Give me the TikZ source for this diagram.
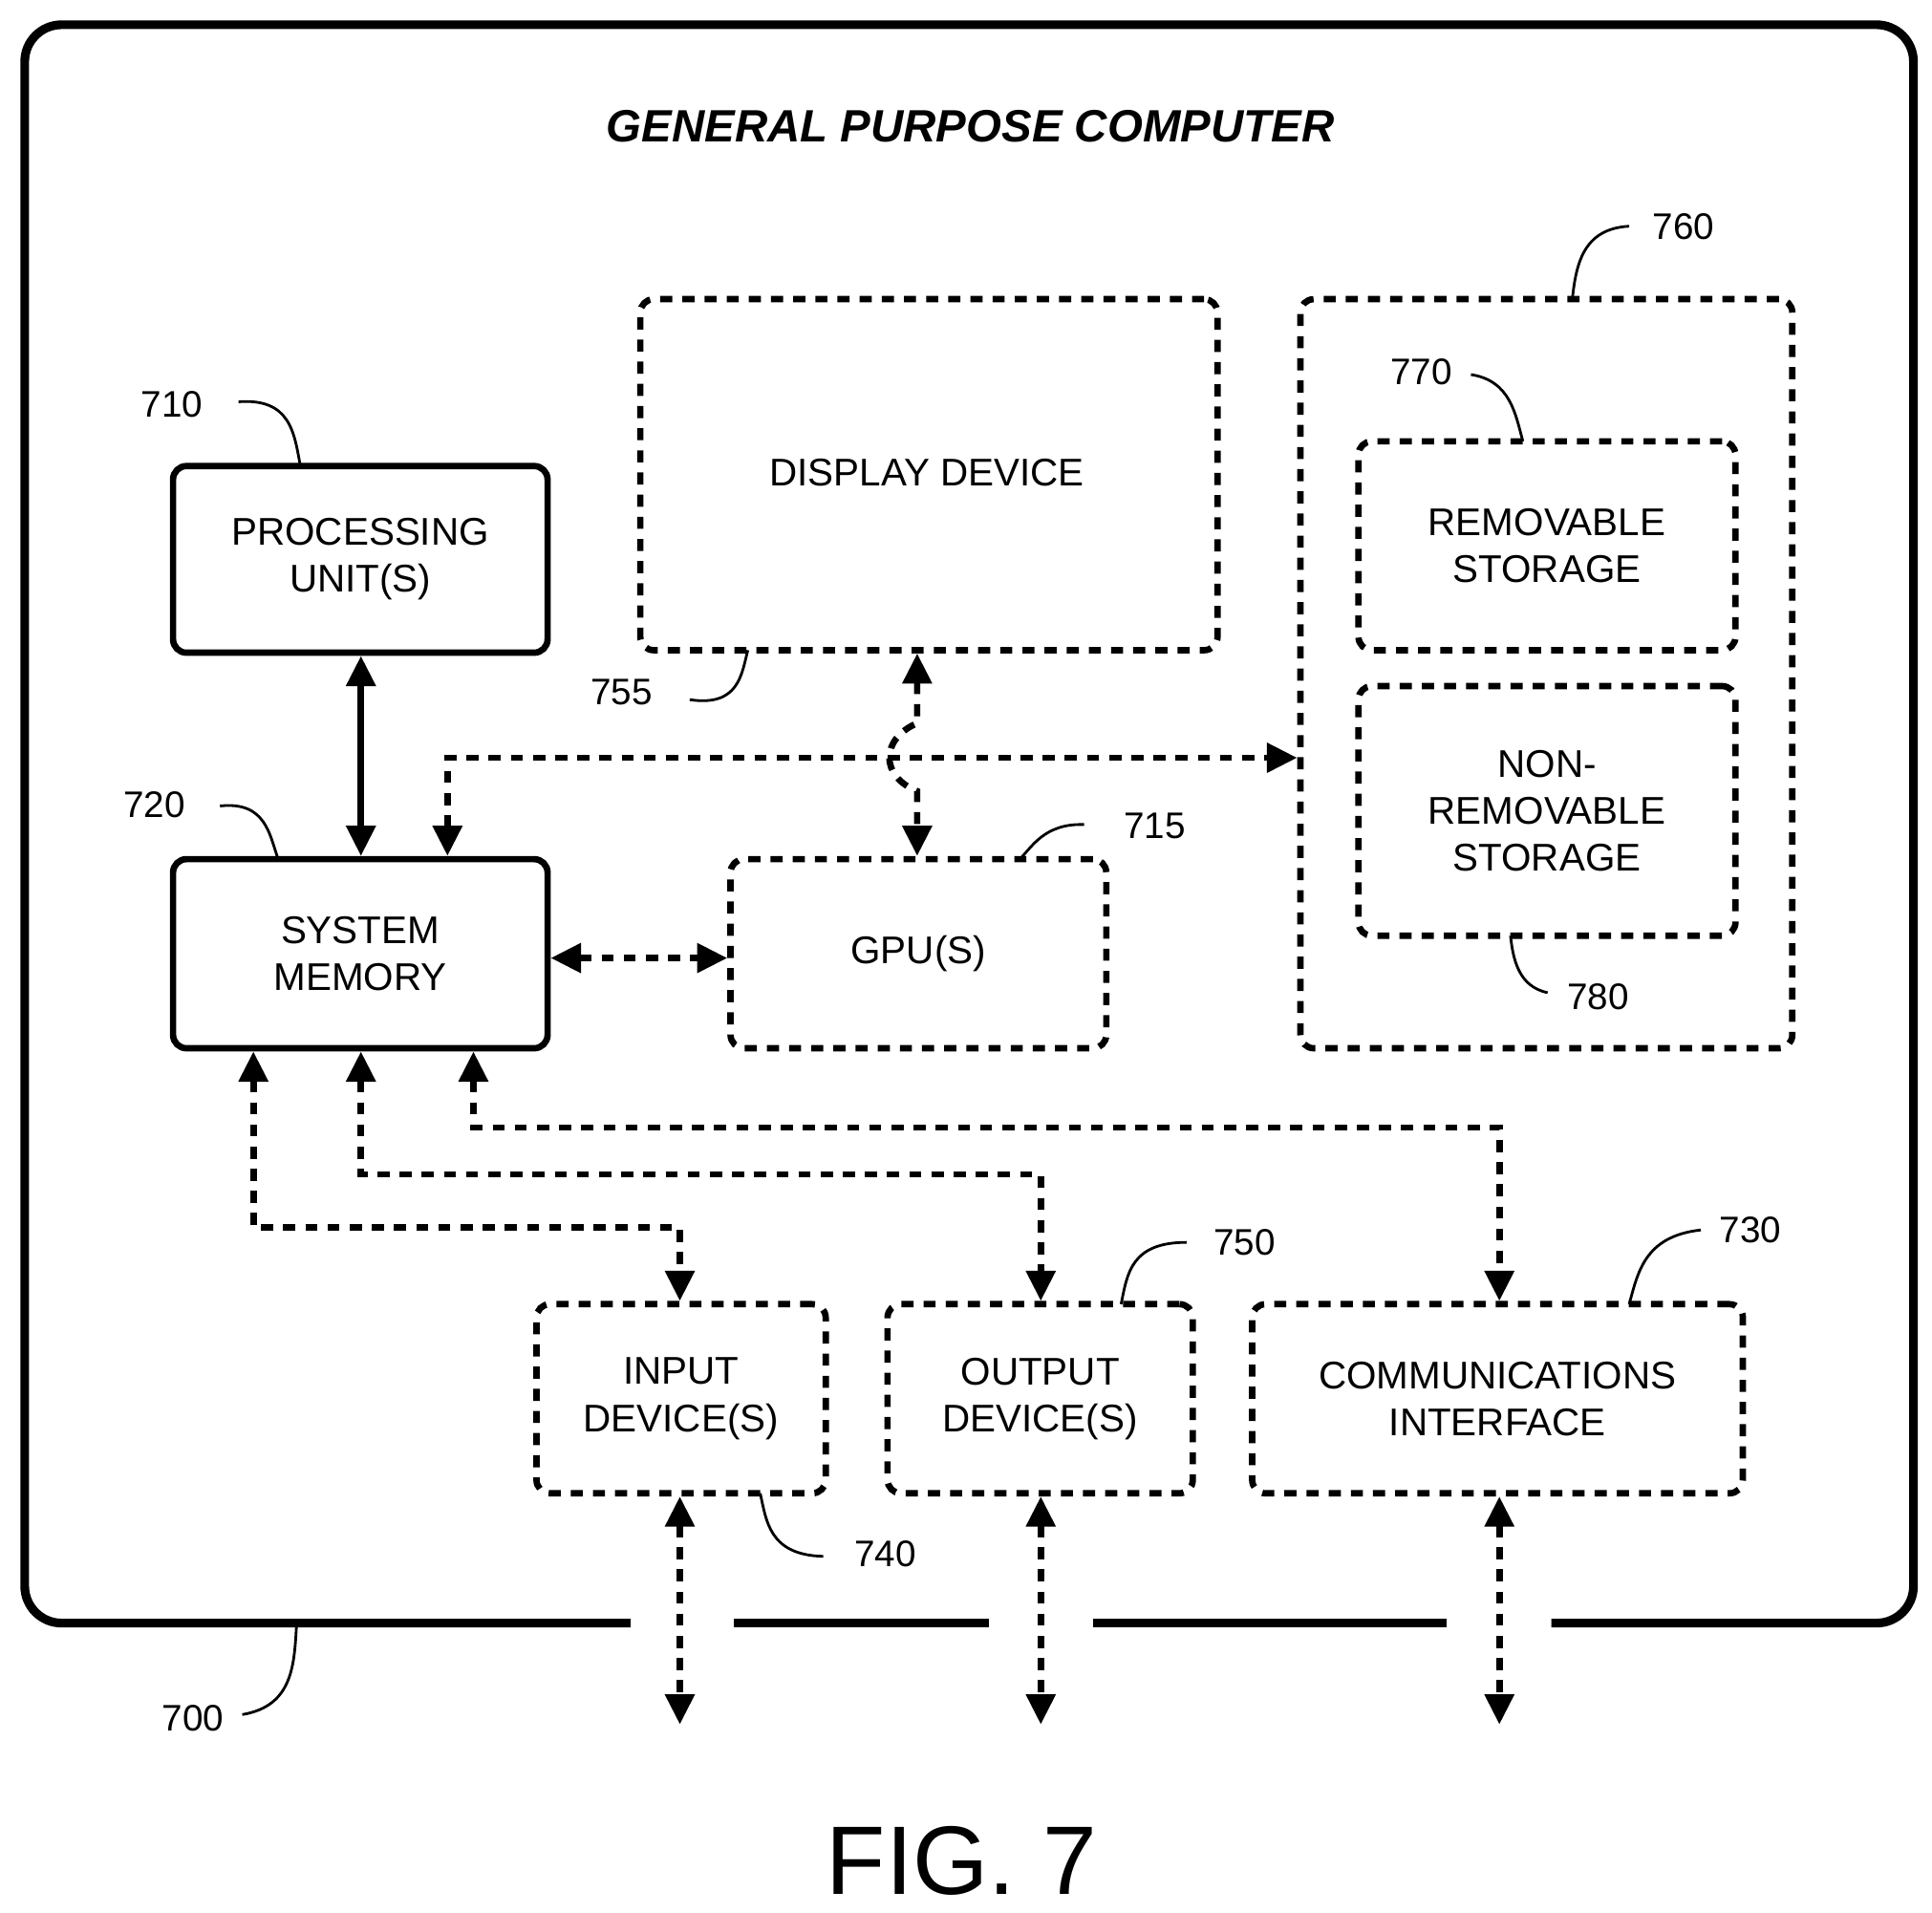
\documentclass[tikz,border=0pt]{standalone}
\usepackage{fontspec}
\setmainfont{Liberation Sans}
\usetikzlibrary{arrows.meta,fit}
\begin{document}
\begin{tikzpicture}[x=0.01294cm,y=-0.01294cm,
  >={Triangle[length=9pt,width=8.5pt]},
  solidbox/.style={draw,line width=1.9pt,rounded corners=4pt,inner sep=0},
  dbox/.style={draw,line width=1.9pt,rounded corners=4pt,inner sep=0,dash pattern=on 3.6pt off 3pt},
  txt/.style={font=\fontsize{11.5}{14}\selectfont,align=center},
  num/.style={font=\fontsize{11}{13}\selectfont},
  lead/.style={line width=0.8pt},
  con/.style={line width=1.9pt,dash pattern=on 3.6pt off 3pt,<->},
  scon/.style={line width=1.9pt,<->}]
\useasboundingbox (0,0) rectangle (1563,1547);
% outer frame
\draw[line width=2.6pt,rounded corners=11pt] (510,1313) -- (20,1313) -- (20,20) -- (1548,20) -- (1548,1313) -- (1255,1313);
\draw[line width=2.6pt] (594,1313)--(800,1313) (884,1313)--(1170,1313);
\node[font=\fontsize{13.5}{16}\selectfont\bfseries\itshape] (title) at (785,102) {GENERAL PURPOSE COMPUTER};
\node[font=\fontsize{29}{34}\selectfont] (fig) at (778,1505) {FIG. 7};
% boxes
\node[solidbox,fit={(140,377)(443,528)}] (pu) {};
\node[txt] at (pu) {PROCESSING\\UNIT(S)};
\node[solidbox,fit={(140,695)(443,848)}] (sm) {};
\node[txt] at (sm) {SYSTEM\\MEMORY};
\node[dbox,fit={(518,242)(985,526)}] (dd) {};
\node[txt] at (750,382) {DISPLAY DEVICE};
\node[dbox,fit={(591,695)(895,848)}] (gpu) {};
\node[txt] at (gpu) {GPU(S)};
\node[dbox,fit={(1052,242)(1450,848)}] (st) {};
\node[dbox,fit={(1099,357)(1404,526)}] (rs) {};
\node[txt] at (rs) {REMOVABLE\\STORAGE};
\node[dbox,fit={(1099,555)(1404,757)}] (nrs) {};
\node[txt] at (nrs) {NON-\\REMOVABLE\\STORAGE};
\node[dbox,fit={(434,1055)(668,1208)}] (in) {};
\node[txt] at (in) {INPUT\\DEVICE(S)};
\node[dbox,fit={(718,1055)(965,1208)}] (out) {};
\node[txt] at (out) {OUTPUT\\DEVICE(S)};
\node[dbox,fit={(1013,1055)(1410,1208)}] (ci) {};
\node[txt] at (ci) {COMMUNICATIONS\\INTERFACE};
% coordinates
\coordinate (x205) at (205,0); \coordinate (x292) at (292,0);
\coordinate (x362) at (362,0); \coordinate (x383) at (383,0);
\coordinate (x550) at (550,0); \coordinate (x742) at (742,0);
\coordinate (x842) at (842,0); \coordinate (x1213) at (1213,0);
\coordinate (y613) at (0,613); \coordinate (y775) at (0,775);
\coordinate (e1) at (550,1395); \coordinate (e2) at (842,1395); \coordinate (e3) at (1213,1395);
% connectors
\draw[scon] (pu.south -| x292) -- (sm.north -| x292);
\draw[con] (sm.north -| x362) -- (x362 |- y613) -- (st.west |- y613);
\draw[con] (dd.south -| x742) -- (742,585) .. controls (712,598) and (712,628) .. (742,640) -- (gpu.north -| x742);
\draw[con] (sm.east |- y775) -- (gpu.west |- y775);
\draw[con] (sm.south -| x205) -- (205,993) -- (550,993) -- (in.north -| x550);
\draw[con] (sm.south -| x292) -- (292,950) -- (842,950) -- (out.north -| x842);
\draw[con] (sm.south -| x383) -- (383,912) -- (1213,912) -- (ci.north -| x1213);
\draw[con] (in.south -| x550) -- (e1);
\draw[con] (out.south -| x842) -- (e2);
\draw[con] (ci.south -| x1213) -- (e3);
% reference numerals
\node[num] (n710) at (139,327) {710};
\draw[lead] (193,325) .. controls (235,322) and (238,350) .. (243,377);
\node[num] (n720) at (125,651) {720};
\draw[lead] (178,652) .. controls (215,648) and (218,675) .. (225,695);
\node[num] (n755) at (503,560) {755};
\draw[lead] (558,566) .. controls (598,572) and (600,545) .. (605,526);
\node[num] (n715) at (934,668) {715};
\draw[lead] (877,667) .. controls (845,666) and (835,685) .. (825,695);
\node[num] (n760) at (1362,183) {760};
\draw[lead] (1318,183) .. controls (1280,185) and (1275,215) .. (1272,242);
\node[num] (n770) at (1150,301) {770};
\draw[lead] (1190,303) .. controls (1222,308) and (1226,335) .. (1232,357);
\node[num] (n780) at (1293,806) {780};
\draw[lead] (1252,803) .. controls (1228,798) and (1224,775) .. (1222,757);
\node[num] (n750) at (1007,1005) {750};
\draw[lead] (960,1005) .. controls (915,1005) and (912,1030) .. (907,1055);
\node[num] (n730) at (1416,995) {730};
\draw[lead] (1376,995) .. controls (1330,1000) and (1325,1030) .. (1318,1055);
\node[num] (n740) at (716,1257) {740};
\draw[lead] (666,1259) .. controls (622,1258) and (620,1230) .. (615,1208);
\node[num] (n700) at (156,1390) {700};
\draw[lead] (196,1387) .. controls (238,1380) and (238,1345) .. (240,1313);
\end{tikzpicture}
\end{document}
